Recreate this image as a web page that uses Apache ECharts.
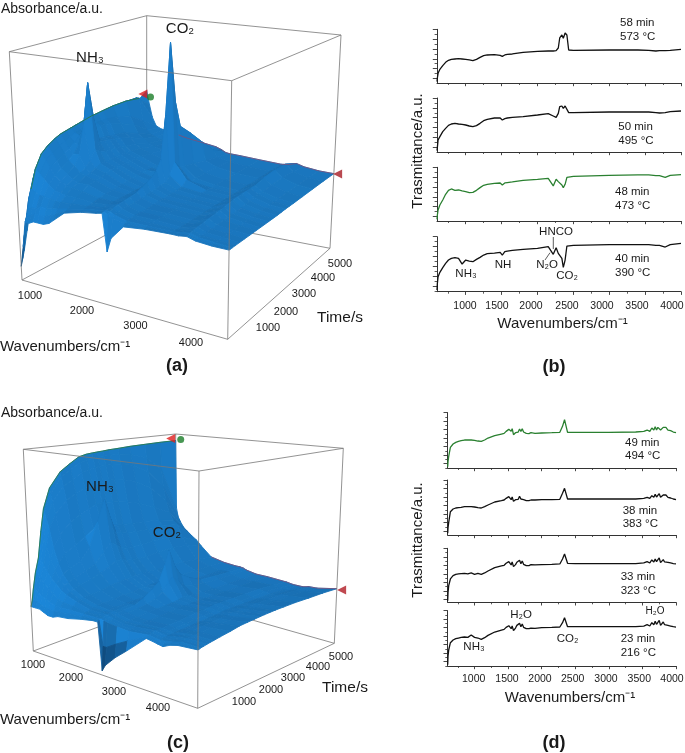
<!DOCTYPE html>
<html><head><meta charset="utf-8">
<style>html,body{margin:0;padding:0;background:#fff}#c{width:685px;height:753px}</style>
<script src="https://cdn.jsdelivr.net/npm/echarts@6/dist/echarts.min.js"></script></head>
<body><div id="c"></div>
<script>
/* ---------- 3D panels: wavenumber, time, absorbance matrix ---------- */
const waveA=[600,660,720,800,880,960,1072,1180,1280,1480,1800,2080,2200,2280,2360,2600,3000,3480,3640,3800,3960,4280,4600];
const timeA=[0,83,165,330,550,825,1100,1430,1650,1870,2090,2310,2530,2750,2970,3190,3410,3850,4400,4950,5500];
const absA=[
[.06,.15,.26,.26,.27,.27,.27,.28,.30,.34,.36,.37,.376,.22,.28,.34,.35,.355,.355,.36,.35,.345,.345],
[.09,.20,.28,.29,.30,.30,.30,.31,.32,.345,.362,.372,.378,.37,.36,.35,.352,.355,.357,.362,.352,.347,.345],
[.12,.25,.31,.32,.32,.33,.33,.335,.34,.35,.365,.375,.38,.38,.37,.355,.355,.355,.36,.365,.355,.35,.345],
[.20,.34,.39,.38,.37,.37,.365,.36,.36,.365,.37,.378,.383,.385,.372,.358,.358,.355,.36,.368,.355,.35,.345],
[.30,.42,.47,.45,.43,.41,.39,.385,.38,.38,.375,.38,.385,.39,.375,.36,.36,.355,.36,.37,.355,.35,.345],
[.36,.47,.525,.50,.47,.44,.42,.405,.40,.395,.38,.38,.385,.392,.375,.36,.36,.355,.36,.372,.355,.35,.345],
[.40,.50,.55,.52,.49,.46,.44,.42,.41,.41,.385,.38,.385,.395,.375,.36,.36,.355,.36,.375,.355,.35,.345],
[.43,.53,.57,.54,.51,.48,.46,.435,.425,.415,.388,.38,.388,.40,.378,.362,.36,.355,.362,.378,.358,.35,.345],
[.45,.54,.58,.55,.52,.50,.50,.445,.43,.42,.39,.38,.39,.41,.38,.365,.36,.355,.365,.38,.36,.35,.345],
[.46,.55,.585,.56,.54,.53,.62,.47,.44,.425,.392,.38,.39,.42,.382,.365,.36,.355,.367,.382,.36,.35,.345],
[.48,.56,.59,.57,.56,.59,.81,.51,.45,.43,.395,.38,.39,.43,.385,.365,.36,.355,.37,.385,.36,.35,.345],
[.49,.57,.595,.575,.56,.55,.63,.49,.45,.43,.398,.382,.395,.45,.388,.367,.36,.355,.37,.388,.362,.35,.345],
[.50,.58,.60,.58,.57,.53,.52,.48,.45,.43,.40,.385,.40,.49,.39,.37,.36,.355,.37,.39,.365,.35,.345],
[.51,.585,.605,.58,.57,.525,.515,.48,.45,.43,.40,.385,.41,.68,.41,.37,.36,.355,.37,.39,.367,.35,.346],
[.52,.59,.61,.58,.57,.52,.51,.475,.45,.43,.40,.40,.46,1.0,.46,.39,.36,.355,.37,.39,.37,.352,.347],
[.525,.595,.612,.58,.565,.515,.505,.47,.45,.43,.40,.388,.44,.72,.43,.372,.36,.355,.37,.39,.37,.352,.347],
[.53,.60,.615,.58,.56,.51,.50,.465,.445,.43,.40,.39,.44,.60,.42,.375,.36,.355,.37,.39,.37,.352,.347],
[.54,.60,.62,.57,.54,.50,.48,.455,.44,.42,.40,.39,.43,.55,.41,.375,.36,.355,.37,.40,.375,.355,.348],
[.55,.61,.62,.55,.51,.47,.45,.43,.42,.41,.395,.385,.41,.48,.395,.372,.36,.355,.37,.405,.375,.355,.349],
[.57,.61,.61,.50,.46,.44,.43,.42,.41,.405,.395,.385,.395,.41,.38,.368,.36,.355,.368,.40,.37,.354,.35],
[.62,.55,.49,.45,.44,.435,.43,.425,.42,.41,.40,.39,.38,.37,.367,.365,.36,.355,.36,.37,.36,.352,.35]];
const markersA=[[520,5500,.6,'#d81e1e'],[680,5500,.59,'#1a7d28'],[4680,5500,.351,'#a81c24']];

const waveC=[600,620,660,720,800,900,1000,1120,1240,1480,1800,2080,2200,2280,2360,2600,2880,3360,3520,3640,3760,3920,4120,4600];
const timeC=[0,55,110,220,358,495,627,880,1293,1650,1980,2255,2475,2640,2860,3080,3410,3850,4400,4950,5500];
const absC=[
[.22,.22,.22,.22,.22,.21,.20,.20,.21,.215,.23,.24,.24,.02,.05,.10,.147,.23,.225,.22,.216,.23,.24,.246],
[.25,.25,.25,.25,.24,.23,.23,.225,.23,.235,.24,.245,.245,.13,.13,.16,.19,.235,.23,.225,.225,.235,.245,.248],
[.30,.30,.30,.29,.28,.27,.26,.25,.25,.25,.25,.25,.25,.245,.24,.235,.23,.24,.235,.232,.235,.24,.25,.25],
[.38,.38,.37,.36,.34,.32,.30,.28,.27,.265,.255,.255,.255,.25,.245,.24,.235,.245,.24,.237,.24,.245,.252,.252],
[.45,.45,.44,.42,.39,.36,.34,.315,.30,.28,.26,.26,.26,.255,.25,.24,.24,.25,.245,.24,.245,.25,.255,.255],
[.58,.57,.55,.51,.45,.40,.36,.335,.31,.285,.265,.262,.262,.258,.252,.243,.243,.25,.246,.242,.247,.252,.257,.258],
[.69,.67,.64,.59,.50,.43,.38,.345,.32,.29,.27,.265,.265,.26,.255,.245,.245,.25,.247,.243,.25,.255,.258,.26],
[.79,.76,.72,.66,.56,.47,.40,.36,.33,.295,.272,.268,.268,.265,.257,.25,.248,.252,.25,.245,.252,.257,.26,.265],
[.865,.84,.79,.72,.61,.50,.42,.38,.34,.30,.275,.27,.27,.27,.26,.255,.25,.255,.252,.248,.254,.26,.262,.272],
[.90,.87,.82,.75,.64,.53,.48,.40,.36,.31,.28,.27,.275,.29,.265,.255,.255,.26,.256,.25,.256,.263,.265,.28],
[.93,.90,.85,.77,.66,.56,.60,.45,.38,.315,.282,.272,.285,.32,.28,.258,.257,.263,.258,.252,.258,.265,.268,.283],
[.94,.91,.86,.78,.68,.60,.71,.49,.40,.32,.285,.275,.30,.35,.30,.26,.26,.265,.26,.255,.26,.267,.27,.285],
[.943,.915,.865,.785,.68,.57,.60,.47,.40,.32,.287,.285,.35,.42,.34,.265,.26,.267,.262,.257,.262,.27,.272,.287],
[.945,.92,.87,.79,.68,.56,.53,.45,.39,.325,.29,.30,.38,.49,.36,.27,.26,.27,.265,.26,.265,.272,.275,.288],
[.947,.92,.87,.79,.675,.555,.515,.44,.385,.325,.29,.29,.34,.40,.33,.268,.26,.27,.265,.26,.265,.272,.275,.289],
[.95,.92,.87,.79,.67,.55,.51,.44,.38,.325,.29,.285,.31,.35,.30,.265,.26,.27,.265,.26,.265,.272,.275,.29],
[.952,.92,.865,.78,.66,.545,.505,.44,.38,.322,.29,.282,.30,.32,.285,.262,.26,.27,.265,.26,.265,.272,.275,.29],
[.956,.91,.85,.76,.64,.54,.50,.44,.385,.32,.29,.28,.285,.29,.275,.26,.26,.27,.265,.26,.265,.272,.275,.29],
[.958,.88,.80,.71,.60,.53,.50,.44,.39,.32,.29,.28,.282,.285,.272,.26,.26,.27,.265,.26,.26,.27,.272,.287],
[.96,.80,.70,.62,.55,.51,.49,.42,.38,.31,.288,.28,.28,.28,.27,.26,.26,.265,.26,.255,.255,.265,.268,.285],
[.96,.55,.50,.47,.44,.42,.40,.38,.35,.30,.285,.28,.28,.277,.27,.26,.26,.255,.25,.25,.25,.258,.26,.28]];
const markersC=[[480,5500,.97,'#e01e1e'],[720,5500,.97,'#1a7d28'],[4720,5500,.279,'#b01c24']];

/* ---------- spectra panels ---------- */
const waveB=[600,605,615,640,680,720,760,800,850,900,950,1000,1050,1100,1150,1200,1250,1300,1400,1480,1510,1525,1545,1580,1650,1800,2000,2150,2220,2260,2290,2310,2340,2360,2385,2410,2435,2500,3000,3400,3550,3650,3700,3780,3850,4000];
const spec58=[4,15,29,41,52,62,68,71,72,73,72,71,69,67,71,77,82,84,85,83,80,76,84,86,87,92,95,96,96,97,105,135,144,134,150,144,99,98,99,99,98,96,97,97,98,101];
const spec50=[4,14,36,46,61,71,80,84,86,84,83,81,78,76,79,86,94,98,102,102,96,92,100,102,104,106,111,115,108,104,116,136,138,131,138,134,118,118,120,120,120,118,117,118,121,123];
const spec48=[5,18,33,48,63,80,92,96,92,93,90,88,85,86,92,100,107,110,113,114,108,106,114,115,117,122,125,128,105,125,118,115,108,100,110,131,133,134,137,138,138,136,136,131,137,139];
const spec40=[5,25,45,58,72,85,95,100,102,100,83,95,92,90,97,103,110,114,116,118,110,107,120,122,124,127,130,135,112,132,115,112,100,73,95,137,138,139,141,141,141,139,139,134,141,145];

const waveD=[600,605,615,640,680,720,760,800,850,900,950,1000,1050,1100,1150,1200,1300,1400,1440,1470,1490,1510,1530,1545,1560,1580,1610,1630,1650,1670,1690,1710,1730,1750,1770,1790,1810,1840,1900,2000,2150,2270,2310,2340,2360,2385,2400,2500,3000,3400,3520,3570,3610,3640,3670,3690,3710,3730,3750,3770,3790,3810,3830,3850,3880,3920,3960,4000];
const spec49=[4,20,35,62,72,77,80,82,84,84,84,83,81,80,84,90,97,102,104,110,106,116,122,110,118,100,106,112,108,117,110,118,108,112,104,108,103,106,104,105,106,107,125,145,150,107,107,107,107,108,110,114,110,120,114,124,114,122,128,114,112,122,116,122,114,112,108,106];
const spec38=[5,22,38,70,78,81,82,83,85,85,85,84,82,81,85,90,99,103,105,110,107,115,120,106,114,101,106,111,107,116,108,114,106,110,103,107,103,105,105,106,106,107,125,140,142,108,108,108,108,108,110,113,110,118,113,122,114,120,124,113,112,120,114,120,113,111,108,106];
const spec33=[5,30,50,70,80,84,85,86,87,85,88,84,87,84,88,94,104,109,111,117,113,122,128,112,121,107,113,120,115,126,116,124,114,118,110,114,110,113,112,113,114,115,130,145,150,117,116,116,116,116,118,122,118,127,121,130,122,128,133,119,118,128,121,127,120,118,116,115];
const spec23=[4,30,48,70,78,82,84,86,87,86,93,86,84,80,85,92,102,108,110,116,112,121,127,112,120,106,114,122,117,128,118,126,116,120,112,116,112,114,113,115,116,117,130,145,150,118,118,118,118,118,120,124,120,130,124,134,125,131,137,122,120,132,124,130,122,120,118,117];

const xTickLabels=['1000','1500','2000','2500','3000','3500','4000'];
const labelXB=[465,497,531,567,602,637,672];
const labelXD=[473.7,507,540,572.7,606,639.3,672];
const majorX=[1000,1500,2000,2500,3000,3500,4000];
const minorX=[750,1250,1750,2250,2750,3250,3750];
const wave3DLabels=['1000','2000','3000','4000'];
const time3DLabels=['1000','2000','3000','4000','5000'];

/* layout of panels */
const FONT='"Liberation Sans",Arial,sans-serif';
const boxA={bl:[22,280],bf:[227.7,339.3],br:[330,248.3],bb:[146.7,213],tl:[9.3,51.7],tf:[231.7,80.7],tr:[341,35],tb:[146.7,15.7],wMin:600,wMax:4600,tMax:5500};
const boxC={bl:[33.3,651],bf:[197.7,708.3],br:[334.3,643.3],bb:[175.7,598.3],tl:[23.3,449.3],tf:[199,471],tr:[343.3,448.3],tb:[175.7,434],wMin:600,wMax:4600,tMax:5500};

function project(box,w,t,z){
  const u=(w-box.wMin)/(box.wMax-box.wMin), v=t/box.tMax;
  const mix=(a,b,s)=>[a[0]+(b[0]-a[0])*s,a[1]+(b[1]-a[1])*s];
  const bot=mix(mix(box.bl,box.bf,u),mix(box.bb,box.br,u),v);
  const top=mix(mix(box.tl,box.tf,u),mix(box.tb,box.tr,u),v);
  return mix(bot,top,z);
}
const DARK=[14,70,118],MID=[26,116,186],BRIGHT=[28,146,236];
function shade(box,wa,wb,ta,tb,z00,z10,z01,z11,j){
  const du=(wb-wa)/(box.wMax-box.wMin),dv=(tb-ta)/box.tMax;
  const sx=((z10-z00)+(z11-z01))/2/du, sy=((z01-z00)+(z11-z10))/2/dv;
  const n=Math.hypot(sx,sy,1);
  let s=(-.06*sx+.5*sy)/n;
  s+= -.9*sx/(1+8*Math.abs(sx));      // fine creases between bands
  s+= (j%2? .035:-.035);              // banding between recorded spectra
  const zm=(z00+z10+z01+z11)/4;
  if(zm<.2) s=Math.min(s,0)-.1-1.3*(.2-zm)/.2;
  s=Math.max(-1,Math.min(1,s));
  const b=s>0?BRIGHT:DARK,k=Math.abs(s);
  return 'rgb('+MID.map((c,i)=>Math.round(c+(b[i]-c)*k)).join(',')+')';
}
function surfaceSeries(box,waves,times,m){
  const cells=[];
  for(let j=times.length-2;j>=0;j--) for(let i=0;i<waves.length-1;i++){
    cells.push([waves[i],waves[i+1],times[j],times[j+1],m[j][i],m[j][i+1],m[j+1][i],m[j+1][i+1],j]);
  }
  return {type:'custom',xAxisIndex:0,yAxisIndex:0,clip:false,silent:true,z:3,animation:false,data:cells,
    renderItem(p,api){
      const c=cells[p.dataIndex];
      const pts=[project(box,c[0],c[2],c[4]),project(box,c[1],c[2],c[5]),project(box,c[1],c[3],c[7]),project(box,c[0],c[3],c[6])].map(q=>api.coord(q));
      const col=shade(box,c[0],c[1],c[2],c[3],c[4],c[5],c[6],c[7],c[8]);
      return {type:'polygon',shape:{points:pts},style:{fill:col,stroke:col,lineWidth:.9}};
    }};
}
function edgeSeries(box,names,z){
  const corner=n=>({bl:[box.wMin,0,0],bf:[box.wMax,0,0],br:[box.wMax,box.tMax,0],bb:[box.wMin,box.tMax,0],tl:[box.wMin,0,1],tf:[box.wMax,0,1],tr:[box.wMax,box.tMax,1],tb:[box.wMin,box.tMax,1]})[n];
  const edges=names.map(e=>[...corner(e[0]),...corner(e[1])]);
  return {type:'custom',xAxisIndex:0,yAxisIndex:0,clip:false,silent:true,z,animation:false,data:edges,
    renderItem(p,api){
      const e=edges[p.dataIndex];
      const a=api.coord(project(box,e[0],e[1],e[2])),b=api.coord(project(box,e[3],e[4],e[5]));
      return {type:'line',shape:{x1:a[0],y1:a[1],x2:b[0],y2:b[1]},style:{stroke:'#777',lineWidth:.8,fill:null}};
    }};
}
const backEdges=[['bl','bb'],['br','bb'],['tb','bb']];
const frontEdges=[['bl','bf'],['bf','br'],['bl','tl'],['bf','tf'],['br','tr'],['tl','tf'],['tf','tr'],['tl','tb'],['tr','tb']];
function line3D(box,pts,color,z){
  return {type:'line',xAxisIndex:0,yAxisIndex:0,data:pts.map(p=>project(box,p[0],p[1],p[2])),showSymbol:false,symbol:'none',z:z||4,silent:true,animation:false,lineStyle:{color,width:.7}};
}
function markerSeries(box,ms){
  return ms.map(m=>({type:'scatter',xAxisIndex:0,yAxisIndex:0,data:[project(box,m[0],m[1],m[2])],symbol:m[3]=='#1a7d28'?'circle':'triangle',symbolRotate:m[3]=='#1a7d28'?0:90,symbolSize:m[3]=='#1a7d28'?7:9,itemStyle:{color:m[3]},z:6,silent:true,animation:false}));
}

/* spectra grids */
const panels=[
 {w:waveB,y:spec58,left:437,right:681,top:29.3,h:53.7,max:161,c:'#111',step:29.5},
 {w:waveB,y:spec50,left:437,right:681,top:98,h:54,max:162,c:'#111',step:29.5},
 {w:waveB,y:spec48,left:437,right:681,top:167.3,h:53.7,max:161,c:'#2a8030',step:29.5},
 {w:waveB,y:spec40,left:437,right:681,top:236.7,h:55,max:165,c:'#111',step:29.5},
 {w:waveD,y:spec49,left:447.7,right:676,top:412.7,h:55.3,max:166,c:'#2a8030',step:25.5},
 {w:waveD,y:spec38,left:447.7,right:676,top:480,h:55,max:165,c:'#111',step:25.5},
 {w:waveD,y:spec33,left:447.7,right:676,top:548.3,h:54,max:162,c:'#111',step:25.5},
 {w:waveD,y:spec23,left:447.7,right:676,top:610.7,h:55.3,max:166,c:'#111',step:25.5}
];
const grid=[{left:0,top:0,width:685,height:753,show:false}],xAxis=[{gridIndex:0,type:'value',min:0,max:685,show:false}],yAxis=[{gridIndex:0,type:'value',min:0,max:753,inverse:true,show:false}],series=[];
const AX={lineStyle:{color:'#333',width:1}};
panels.forEach((p,i)=>{
  const g=i+1;
  grid.push({left:p.left,top:p.top,width:p.right-p.left,height:p.h,show:false});
  const ym=[],yn=[];
  for(let k=0;p.max-k*p.step>=0;k++){ym.push(p.max-k*p.step);yn.push(p.max-(k+.5)*p.step);}
  const xi=xAxis.length,yi=yAxis.length;
  xAxis.push({gridIndex:g,type:'value',min:600,max:4000,position:'bottom',axisLine:{show:true,onZero:false,...AX},axisLabel:{show:false},splitLine:{show:false},axisTick:{show:true,length:3.2,customValues:majorX,lineStyle:{color:'#333',width:.9}}});
  xAxis.push({gridIndex:g,type:'value',min:600,max:4000,position:'bottom',axisLine:{show:false,onZero:false},axisLabel:{show:false},splitLine:{show:false},axisTick:{show:true,length:2,customValues:minorX,lineStyle:{color:'#333',width:.8}}});
  yAxis.push({gridIndex:g,type:'value',min:0,max:p.max,position:'left',axisLine:{show:true,onZero:false,...AX},axisLabel:{show:false},splitLine:{show:false},axisTick:{show:true,length:4.2,customValues:ym,lineStyle:{color:'#333',width:.9}}});
  yAxis.push({gridIndex:g,type:'value',min:0,max:p.max,position:'left',axisLine:{show:false,onZero:false},axisLabel:{show:false},splitLine:{show:false},axisTick:{show:true,length:2.4,customValues:yn.filter(v=>v>=0),lineStyle:{color:'#333',width:.8}}});
  series.push({type:'line',xAxisIndex:xi,yAxisIndex:yi,data:p.w.map((w,k)=>[w,p.y[k]]),showSymbol:false,symbol:'none',silent:true,animation:false,lineStyle:{color:p.c,width:1.3}});
});
/* 3D */
const lastA=absA.length-1,lastC=absC.length-1;
series.push(edgeSeries(boxA,backEdges,2),surfaceSeries(boxA,waveA,timeA,absA),edgeSeries(boxA,frontEdges,5));
series.push(line3D(boxA,timeA.map((t,j)=>[waveA[2],t,absA[j][2]]).slice(3,20),'#2a7a2a'),line3D(boxA,waveA.map((w,i)=>[w,5500,absA[lastA][i]]).slice(8),'#8a4a70'));
series.push(...markerSeries(boxA,markersA));
series.push(edgeSeries(boxC,backEdges,2),surfaceSeries(boxC,waveC,timeC,absC),edgeSeries(boxC,frontEdges,5));
series.push(line3D(boxC,timeC.map((t,j)=>[waveC[0],t,absC[j][0]]),'#2a7a2a'),line3D(boxC,waveC.map((w,i)=>[w,5500,absC[lastC][i]]).slice(9),'#8a4a70'));
series.push(...markerSeries(boxC,markersC));

/* text */
const G=[];
function T(text,x,y,size,o){o=o||{};G.push({type:'text',x,y,rotation:o.rot||0,silent:true,z:20,style:{text,fontSize:size,fontFamily:FONT,fontWeight:o.bold?'bold':'normal',fill:o.fill||'#1a1a1a',textAlign:o.align||'center',textVerticalAlign:'middle'}});}
function L(x1,y1,x2,y2){G.push({type:'line',silent:true,z:20,shape:{x1,y1,x2,y2},style:{stroke:'#333',lineWidth:.8}});}
const WN='Wavenumbers/cm⁻¹',YL='Trasmittance/a.u.',AB='Absorbance/a.u.';
T(AB,1,9.5,14,{align:'left'});T('NH₃',90,57.5,15);T('CO₂',180,29,15);
[[30,296],[82,311],[135.5,326],[191,343]].forEach((p,i)=>T(wave3DLabels[i],p[0],p[1],11));
[[268,328],[286,312],[304,294],[323,278],[340,264]].forEach((p,i)=>T(time3DLabels[i],p[0],p[1],11));
T('Time/s',340,318,15.5);T(WN,0,347,15,{align:'left'});T('(a)',177,366,18,{bold:true});
T(AB,1,413,14,{align:'left'});T('NH₃',100,487,15);T('CO₂',167,533,15);
[[33,665],[71,678],[114,692],[158,708]].forEach((p,i)=>T(wave3DLabels[i],p[0],p[1],11));
[[244,702],[271,690],[293,678],[318,667],[341,657]].forEach((p,i)=>T(time3DLabels[i],p[0],p[1],11));
T('Time/s',345,688,15.5);T(WN,0,720,15,{align:'left'});T('(c)',178,743,18,{bold:true});
/* right */
T(YL,418,151,15,{rot:Math.PI/2});T(YL,418,540,15,{rot:Math.PI/2});
xTickLabels.forEach((s,i)=>{T(s,labelXB[i],305.7,10.5);T(s,labelXD[i],679.3,10.5);});
T(WN,562.5,324,15);T(WN,570,698,15);T('(b)',554,367,18,{bold:true});T('(d)',554,743,18,{bold:true});
const leftTxt=(a,b,x,y1,y2)=>{T(a,x,y1,11.5,{align:'left'});T(b,x,y2,11.5,{align:'left'});};
leftTxt('58 min','573 °C',620,22.7,36.7);leftTxt('50 min','495 °C',618.3,127,141);leftTxt('48 min','473 °C',615,192,206);leftTxt('40 min','390 °C',615,259,273);
leftTxt('49 min','494 °C',625,442.7,456);leftTxt('38 min','383 °C',622.7,511,524.3);leftTxt('33 min','323 °C',620.7,577.3,591);leftTxt('23 min','216 °C',620.7,639,653.3);
T('HNCO',556,232,11.5);T('N₂O',547,265,11.5);T('CO₂',567,276,11.5);T('NH₃',466,273.5,11.5);T('NH',503,265,11.5);
L(553.3,237,553.3,249);L(545,260,550,252.7);
T('H₂O',521,615,11.5);T('H₂O',655,611.7,10);T('CO₂',567.5,639.3,11.5);T('NH₃',474,646.7,11.5);

const chart=echarts.init(document.getElementById('c'),null,{renderer:'canvas'});
chart.setOption({animation:false,backgroundColor:'#fff',grid,xAxis,yAxis,series,graphic:G,tooltip:{show:false},legend:{show:false}});
</script></body></html>
